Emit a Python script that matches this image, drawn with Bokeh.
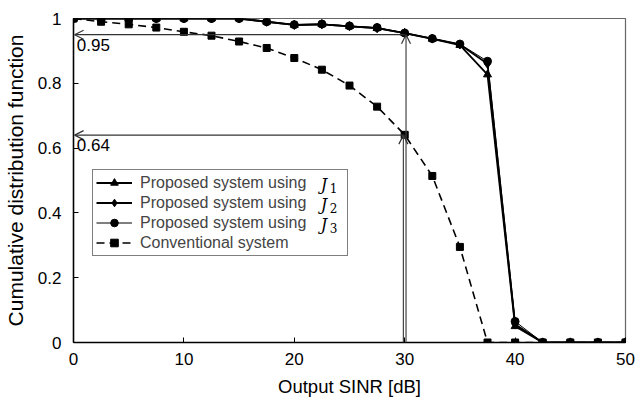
from bokeh.plotting import figure
from bokeh.models import Legend, LegendItem, Label, Arrow, OpenHead
from bokeh.embed import file_html
from bokeh.resources import INLINE

# Output SINR samples [dB]
sinr = [0, 2.5, 5, 7.5, 10, 12.5, 15, 17.5, 20, 22.5, 25, 27.5, 30,
        32.5, 35, 37.5, 40, 42.5, 45, 47.5, 50]

# Cumulative distribution values
cdf_j1 = [1.0, 1.0, 1.0, 1.0, 1.0, 1.0, 1.0, 0.99, 0.98, 0.982, 0.976, 0.97,
          0.955, 0.937, 0.918, 0.827, 0.05, 0, 0, 0, 0]
cdf_j2 = [1.0, 1.0, 1.0, 1.0, 1.0, 1.0, 1.0, 0.99, 0.98, 0.982, 0.976, 0.97,
          0.955, 0.938, 0.92, 0.86, 0.056, 0, 0, 0, 0]
cdf_j3 = [1.0, 1.0, 1.0, 1.0, 1.0, 1.0, 1.0, 0.99, 0.981, 0.983, 0.977, 0.972,
          0.955, 0.938, 0.921, 0.868, 0.065, 0, 0, 0, 0]
cdf_conv = [1.0, 0.99, 0.982, 0.972, 0.959, 0.947, 0.929, 0.909, 0.878, 0.842,
            0.793, 0.728, 0.641, 0.514, 0.295, 0, 0, 0, 0, 0, 0]

# Marked operating point
mark_x = 30
mark_vals = [0.95, 0.64]
mark_texts = ["0.95", "0.64"]

y_ticks = [0, 0.2, 0.4, 0.6, 0.8, 1.0]
y_tick_labels = ["0", "0.2", "0.4", "0.6", "0.8", "1"]
x_ticks = [0, 10, 20, 30, 40, 50]

# Cost-function indices shown as J with a subscript in the legend
j_subscripts = ["1", "2", "3"]

FONT = "Liberation Sans"

p = figure(width=635, height=399, x_range=(0, 50), y_range=(0, 1),
           output_backend="svg", toolbar_location=None,
           min_border_left=68, min_border_right=10, min_border_top=18,
           min_border_bottom=56)
p.grid.visible = False
p.outline_line_color = "#666666"
p.outline_line_width = 1.2
p.background_fill_color = "white"
p.border_fill_color = "white"

for ax in (p.xaxis[0], p.yaxis[0]):
    ax.axis_line_color = "black"
    ax.axis_line_width = 1.5
    ax.major_tick_in = 5
    ax.major_tick_out = 0
    ax.minor_tick_line_color = None
    ax.major_tick_line_color = "black"
    ax.major_label_text_font = FONT
    ax.major_label_text_font_size = "17px"
    ax.major_label_text_color = "black"
    ax.axis_label_text_font = FONT
    ax.axis_label_text_font_style = "normal"
    ax.axis_label_text_color = "black"

p.xaxis.axis_label_text_font_size = "18.5px"
p.yaxis.axis_label_text_font_size = "21px"
p.xaxis.ticker = x_ticks
p.yaxis.ticker = y_ticks
p.yaxis.major_label_overrides = {t: l for t, l in zip(y_ticks, y_tick_labels)}
p.xaxis.axis_label = "Output SINR [dB]"
p.yaxis.axis_label = "Cumulative distribution function"
p.xaxis.major_label_standoff = 10
p.yaxis.major_label_standoff = 12
p.xaxis.axis_label_standoff = 8
p.yaxis.axis_label_standoff = 8

# Guide arrows from the operating point to the axes
for v, txt, dx in zip(mark_vals, mark_texts, [0.12, -0.12]):
    p.add_layout(Arrow(end=OpenHead(size=9, line_color="#333333", line_width=1.2),
                       x_start=mark_x, y_start=v, x_end=0.1, y_end=v,
                       line_color="#333333", line_width=1.2))
    p.add_layout(Arrow(end=OpenHead(size=9, line_color="#333333", line_width=1.2),
                       x_start=mark_x + dx, y_start=0, x_end=mark_x + dx, y_end=v,
                       line_color="#444444", line_width=1.2))
    p.add_layout(Label(x=0.3, y=v, y_offset=-4, text=txt, text_baseline="top",
                       text_font=FONT, text_font_size="17px", text_color="black"))

# Curves
r_conv_l = p.line(sinr, cdf_conv, line_color="black", line_width=1.6, line_dash="8 5")
r_conv_m = p.scatter(sinr, cdf_conv, marker="square", size=7, color="black")
r_j3_l = p.line(sinr, cdf_j3, line_color="black", line_width=1.0)
r_j3_m = p.scatter(sinr, cdf_j3, marker="circle", size=8, color="black")
r_j2_l = p.line(sinr, cdf_j2, line_color="black", line_width=1.8)
r_j2_m = p.scatter(sinr, cdf_j2, marker="diamond", size=9, color="black")
r_j1_l = p.line(sinr, cdf_j1, line_color="black", line_width=1.8)
r_j1_m = p.scatter(sinr, cdf_j1, marker="triangle", size=8, color="black")

legend = Legend(items=[
    LegendItem(label="Proposed system using", renderers=[r_j1_l, r_j1_m]),
    LegendItem(label="Proposed system using", renderers=[r_j2_l, r_j2_m]),
    LegendItem(label="Proposed system using", renderers=[r_j3_l, r_j3_m]),
    LegendItem(label="Conventional system", renderers=[r_conv_l, r_conv_m]),
], location=(19, 86), orientation="vertical")
legend.label_text_font = FONT
legend.label_text_font_size = "16px"
legend.label_height = 19
legend.glyph_height = 19
legend.glyph_width = 36
legend.spacing = 1
legend.padding = 3
legend.margin = 0
legend.label_standoff = 8
legend.label_width = 204
legend.border_line_color = "black"
legend.border_line_width = 1.5
legend.background_fill_alpha = 0.0
p.add_layout(legend)

# J symbols with subscripts completing the first three legend labels
for sub, yy in zip(j_subscripts, [0.488, 0.426, 0.365]):
    p.add_layout(Label(x=22.4, y=yy, text="J",
                       text_baseline="middle", text_font="DejaVu Serif",
                       text_font_style="italic", text_font_size="16px",
                       text_color="black"))
    p.add_layout(Label(x=22.4, y=yy, x_offset=9, y_offset=-4, text=sub,
                       text_baseline="middle", text_font="DejaVu Serif",
                       text_font_size="12px", text_color="black"))

open("out.html", "w").write(file_html(p, INLINE))
